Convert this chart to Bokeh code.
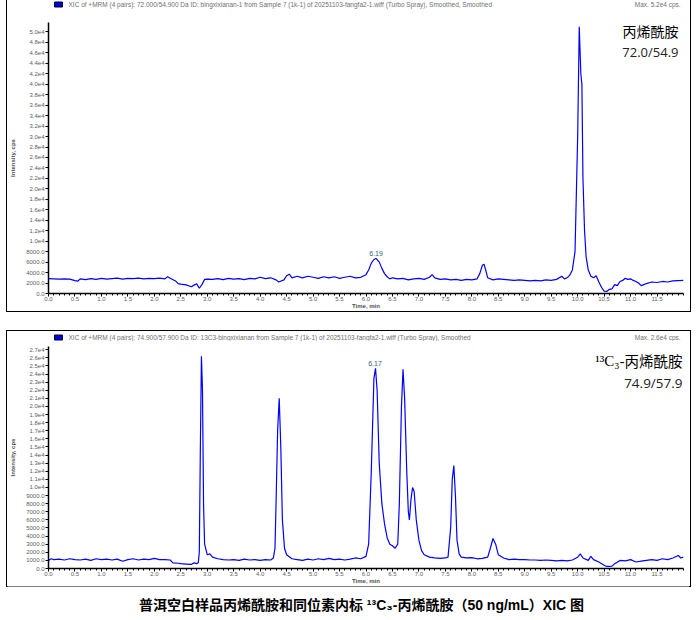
from bokeh.plotting import figure
from bokeh.models import (Label, SingleIntervalTicker, FixedTicker, CustomJSTickFormatter,
                          PrintfTickFormatter, Spacer)
from bokeh.layouts import column, row
from bokeh.embed import file_html
from bokeh.resources import INLINE
from bokeh.core.properties import value

# ---------------- data ----------------
top_time = [0.0, 0.1, 0.2, 0.3, 0.4, 0.5, 0.55, 0.6, 0.7, 0.8, 0.9, 1.0, 1.1, 1.2, 1.3, 1.4, 1.5,
            1.6, 1.7, 1.8, 1.9, 2.0, 2.1, 2.2, 2.25, 2.3, 2.4, 2.45, 2.5, 2.6, 2.7, 2.75, 2.8,
            2.85, 2.9, 2.95, 3.0, 3.1, 3.2, 3.3, 3.4, 3.5, 3.6, 3.7, 3.8, 3.9, 4.0, 4.1, 4.2,
            4.3, 4.35, 4.45, 4.5, 4.55, 4.6, 4.7, 4.8, 4.9, 5.0, 5.1, 5.2, 5.3, 5.4, 5.5, 5.6,
            5.7, 5.8, 5.9, 6.0, 6.05, 6.1, 6.15, 6.19, 6.25, 6.3, 6.35, 6.4, 6.45, 6.5, 6.6,
            6.7, 6.8, 6.9, 7.0, 7.1, 7.2, 7.25, 7.3, 7.4, 7.5, 7.6, 7.7, 7.8, 7.9, 8.0, 8.1,
            8.15, 8.2, 8.23, 8.27, 8.3, 8.4, 8.5, 8.6, 8.7, 8.8, 8.9, 9.0, 9.1, 9.2, 9.3, 9.4,
            9.5, 9.6, 9.7, 9.75, 9.8, 9.85, 9.9, 9.95, 10.0, 10.03, 10.06, 10.08, 10.1, 10.13,
            10.16, 10.2, 10.25, 10.3, 10.35, 10.4, 10.45, 10.5, 10.55, 10.6, 10.65, 10.7,
            10.75, 10.8, 10.85, 10.9, 10.95, 11.0, 11.05, 11.1, 11.15, 11.2, 11.25, 11.3,
            11.4, 11.5, 11.6, 11.7, 11.8, 11.9, 12.0]
top_intensity = [2850, 2800, 2750, 2800, 2750, 2450, 2350, 2800, 2650, 2850, 2700, 2900, 2750,
                 2850, 2950, 2750, 2900, 2850, 2950, 2800, 2900, 2850, 2950, 2800, 3200, 2900,
                 2400, 1900, 1800, 1650, 1300, 1600, 1850, 1000, 1700, 2700, 2750, 2700, 2850,
                 2650, 2900, 2750, 2850, 2650, 2900, 2800, 3100, 2850, 3000, 2600, 2200, 2600,
                 3400, 3700, 3000, 3300, 3000, 3300, 3100, 2900, 3200, 3000, 3200, 2900, 3100,
                 3300, 3000, 3100, 3600, 4500, 5800, 6500, 6700, 6000, 4800, 3800, 3200, 2800,
                 3000, 2800, 2900, 2600, 2800, 2900, 2700, 3100, 3600, 3000, 2700, 2800, 2600,
                 2700, 2500, 2700, 2600, 2800, 3800, 5400, 5600, 4200, 3000, 2600, 2800, 2700,
                 2600, 2500, 2600, 2500, 2400, 2500, 2400, 2600, 2500, 2700, 3300, 2800, 3000,
                 3500, 4500, 8000, 30000, 51000, 42000, 40000, 22000, 12000, 7000, 4500, 3300,
                 3000, 3400, 2200, 1200, 450, 400, 800, 900, 1700, 1500, 2300, 2500, 2900, 2700,
                 2800, 2500, 2300, 2000, 1500, 1700, 1900, 2200, 2100, 2300, 2200, 2400, 2450,
                 2500]

bot_time = [0.0, 0.05, 0.1, 0.2, 0.3, 0.4, 0.5, 0.6, 0.7, 0.8, 0.9, 1.0, 1.1, 1.2, 1.3, 1.4, 1.5,
            1.6, 1.7, 1.8, 1.9, 2.0, 2.1, 2.2, 2.3, 2.35, 2.45, 2.5, 2.6, 2.7, 2.75, 2.8, 2.83,
            2.85, 2.87, 2.89, 2.91, 2.93, 2.95, 3.0, 3.05, 3.1, 3.2, 3.3, 3.4, 3.5, 3.6, 3.7,
            3.8, 3.9, 4.0, 4.1, 4.2, 4.25, 4.28, 4.3, 4.33, 4.36, 4.39, 4.42, 4.46, 4.5, 4.6,
            4.7, 4.8, 4.9, 5.0, 5.1, 5.2, 5.3, 5.4, 5.5, 5.6, 5.7, 5.8, 5.9, 6.0, 6.05, 6.1,
            6.15, 6.18, 6.21, 6.25, 6.3, 6.35, 6.4, 6.45, 6.5, 6.55, 6.6, 6.63, 6.67, 6.7,
            6.73, 6.77, 6.8, 6.82, 6.85, 6.88, 6.91, 6.95, 7.0, 7.05, 7.1, 7.2, 7.3, 7.4, 7.5,
            7.55, 7.6, 7.63, 7.66, 7.69, 7.72, 7.76, 7.8, 7.9, 8.0, 8.1, 8.2, 8.3, 8.35, 8.4,
            8.45, 8.5, 8.6, 8.7, 8.8, 8.9, 9.0, 9.1, 9.2, 9.3, 9.4, 9.5, 9.6, 9.7, 9.8, 9.9,
            10.0, 10.05, 10.1, 10.2, 10.25, 10.3, 10.4, 10.5, 10.55, 10.6, 10.65, 10.7, 10.8,
            10.9, 11.0, 11.1, 11.2, 11.3, 11.4, 11.5, 11.6, 11.7, 11.8, 11.9, 11.95, 12.0]
bot_intensity = [1000, 1200, 1100, 1150, 1050, 1200, 1100, 1050, 1150, 1000, 1200, 1100, 1150,
                 1050, 1150, 900, 1100, 1200, 1050, 1150, 1100, 1250, 1100, 1100, 1050, 700,
                 650, 600, 550, 500, 700, 600, 700, 2000, 15000, 26200, 22000, 8000, 3000, 1700,
                 1800, 1400, 1200, 1100, 1050, 1100, 1000, 1150, 1050, 1100, 1000, 1100, 1050,
                 1300, 2500, 8000, 17000, 21000, 15000, 6000, 2500, 1700, 1200, 1100, 1000,
                 1150, 1050, 1200, 1100, 1250, 1100, 1150, 1050, 1150, 1300, 1200, 1500, 3000,
                 12000, 23500, 24700, 22000, 13000, 8000, 5500, 3800, 3000, 2800, 2500, 3000,
                 8000, 20000, 24600, 21000, 12000, 7000, 6000, 8500, 10000, 9500, 6000, 3500,
                 2200, 1700, 1400, 1300, 1250, 1300, 1400, 5000, 11000, 12700, 9000, 3500, 1800,
                 1400, 1300, 1350, 1200, 1250, 1400, 2500, 3700, 3000, 1700, 1300, 1100, 1150,
                 1100, 1100, 1050, 1050, 1000, 1050, 1000, 950, 1000, 950, 1050, 1400, 1800,
                 1300, 1000, 1500, 1100, 800, 400, 250, 250, 300, 600, 1000, 950, 1100, 800, 900,
                 1000, 1100, 1000, 1200, 1100, 1300, 1600, 1300, 1400]

top_peak_time = [6.19]
top_peak_intensity = [6700]
top_peak_labels = ["6.19"]
bot_peak_time = [6.17]
bot_peak_intensity = [24700]
bot_peak_labels = ["6.17"]

x_tick_values = [0.0, 0.5, 1.0, 1.5, 2.0, 2.5, 3.0, 3.5, 4.0, 4.5, 5.0, 5.5,
                 6.0, 6.5, 7.0, 7.5, 8.0, 8.5, 9.0, 9.5, 10.0, 10.5, 11.0, 11.5]
x_minor_values = [i / 10 for i in range(0, 121)]

top_header = ("XIC of +MRM (4 pairs): 72.000/54.900 Da ID: bingxixianan-1 from Sample 7 (1k-1) "
              "of 20251103-fangfa2-1.wiff (Turbo Spray), Smoothed, Smoothed")
top_max = "Max. 5.2e4 cps."
bot_header = ("XIC of +MRM (4 pairs): 74.900/57.900 Da ID: 13C3-bingxixianan from Sample 7 (1k-1) "
              "of 20251103-fangfa2-1.wiff (Turbo Spray), Smoothed")
bot_max = "Max. 2.6e4 cps."
caption = "普洱空白样品丙烯酰胺和同位素内标 ¹³C₃-丙烯酰胺（50 ng/mL）XIC 图"

TICK_COLOR = "#606060"
HEAD_COLOR = "#707070"
BOX_W = 682
FRAME_W = 635
BOX_STYLE = {"outline": "1.5px solid #000000"}

y_fmt_code = """
if (tick >= 10000) { return (tick / 10000).toFixed(1) + 'e4'; }
return tick.toFixed(1);
"""


def header_fig(height, cy, header, maxtxt):
    # header strip: its data space is laid out in pixels
    h = figure(width=BOX_W, height=height, x_axis_type=None, y_axis_type=None,
               toolbar_location=None, output_backend="svg", min_border=0,
               x_range=(0, BOX_W), y_range=(0, height))
    h.grid.visible = False
    h.outline_line_color = None
    h.add_layout(Label(x=6, y=cy, x_units="screen", y_units="screen", text="\u2003\u2003",
                       text_font_size="4px", text_baseline="middle",
                       background_fill_color="#0000dd", border_line_color="#000033"))
    h.add_layout(Label(x=20, y=cy, x_units="screen", y_units="screen", text=header,
                       text_font="Liberation Sans", text_font_size="6.5px",
                       text_color=HEAD_COLOR, text_baseline="middle"))
    h.text(x=[BOX_W - 2], y=[cy], text=[maxtxt], text_font=value("Liberation Sans"),
           text_font_size="6.5px", text_color=HEAD_COLOR, text_baseline="middle",
           text_align="right")
    return h


def make_panel(frame_h, border_top, border_bottom, y_end, y_step, times, ints,
               pk_t, pk_i, pk_lab):
    p = figure(frame_width=FRAME_W, frame_height=frame_h, x_range=(0, 12.0), y_range=(0, y_end),
               output_backend="svg", toolbar_location=None,
               min_border_left=40, min_border_right=BOX_W - 40 - FRAME_W,
               min_border_top=border_top, min_border_bottom=border_bottom)
    p.grid.visible = False
    p.outline_line_color = None
    p.background_fill_color = "white"
    p.border_fill_color = "white"

    p.line(times, ints, color="#0000ff", line_width=1.2)
    p.text(x=pk_t, y=pk_i, text=pk_lab, text_font=value("Liberation Sans"),
           text_font_size="7px", text_color="#3a5f78", text_align="center",
           text_baseline="bottom", y_offset=-2)

    p.axis.axis_line_width = 1.5
    p.axis.axis_line_color = "black"
    p.axis.major_tick_line_color = "black"
    p.axis.major_tick_out = 3
    p.axis.major_tick_in = 0
    p.axis.minor_tick_out = 2
    p.axis.minor_tick_in = 0
    p.axis.major_label_text_font = "Liberation Sans"
    p.axis.major_label_text_font_size = "6px"
    p.axis.major_label_text_color = TICK_COLOR
    p.axis.major_label_standoff = 1
    p.axis.axis_label_text_font = "Liberation Sans"
    p.axis.axis_label_text_font_size = "6px"
    p.axis.axis_label_text_font_style = "bold"
    p.axis.axis_label_text_color = "#505050"

    p.xaxis.ticker = FixedTicker(ticks=x_tick_values, minor_ticks=x_minor_values)
    p.xaxis.formatter = PrintfTickFormatter(format="%.1f")
    p.xaxis.axis_label = "Time, min"
    p.xaxis.major_label_standoff = 0
    p.xaxis.axis_label_standoff = -1

    p.yaxis.ticker = SingleIntervalTicker(interval=y_step, num_minor_ticks=0)
    p.yaxis.formatter = CustomJSTickFormatter(code=y_fmt_code)
    p.yaxis.axis_label = "Intensity, cps"
    p.yaxis.axis_label_standoff = 7
    p.yaxis.minor_tick_line_color = None
    return p


# ---------------- top panel ----------------
h1 = header_fig(14, 10, top_header, top_max)
p1 = make_panel(271, 8, 15, 51800, 2000, top_time, top_intensity,
                top_peak_time, top_peak_intensity, top_peak_labels)
p1.add_layout(Label(x=630, y=263, x_units="screen", y_units="screen", text="丙烯酰胺",
                    text_font="Noto Sans CJK SC", text_font_size="14px",
                    text_color="black", text_align="right", text_baseline="middle"))
p1.add_layout(Label(x=630, y=242, x_units="screen", y_units="screen", text="72.0/54.9",
                    text_font="Open Sans", text_font_size="13px",
                    text_color="#222222", text_align="right", text_baseline="middle"))

# ---------------- bottom panel ----------------
h2 = header_fig(10, 6, bot_header, bot_max)
p2 = make_panel(222, 5, 15, 27400, 1000, bot_time, bot_intensity,
                bot_peak_time, bot_peak_intensity, bot_peak_labels)
p2.add_layout(Label(x=634, y=208, x_units="screen", y_units="screen", text="丙烯酰胺",
                    text_font="Noto Sans CJK SC", text_font_size="14.5px",
                    text_color="black", text_align="right", text_baseline="middle"))
p2.add_layout(Label(x=576, y=208, x_units="screen", y_units="screen", text="¹³C₃-",
                    text_font="Liberation Serif", text_font_size="15px",
                    text_color="black", text_align="right", text_baseline="middle"))
p2.add_layout(Label(x=634, y=186, x_units="screen", y_units="screen", text="74.9/57.9",
                    text_font="Open Sans", text_font_size="13.5px",
                    text_color="#222222", text_align="right", text_baseline="middle"))

# ---------------- caption ----------------
p3 = figure(width=BOX_W, height=27, x_axis_type=None, y_axis_type=None, toolbar_location=None,
            output_backend="svg", min_border=0, x_range=(0, BOX_W), y_range=(0, 27))
p3.grid.visible = False
p3.outline_line_color = None
p3.add_layout(Label(x=354, y=9, x_units="screen", y_units="screen", text=caption,
                    text_font="Liberation Sans, Noto Sans CJK SC", text_font_size="14px",
                    text_font_style="bold", text_color="black", text_align="center",
                    text_baseline="middle"))

box1 = column(h1, p1, spacing=0, styles=BOX_STYLE)
box2 = column(h2, p2, spacing=0, styles=BOX_STYLE)
inner = column(box1, Spacer(height=20), box2, p3, spacing=0)
layout = row(Spacer(width=7), inner, spacing=0)

open("out.html", "w").write(file_html(layout, INLINE))
